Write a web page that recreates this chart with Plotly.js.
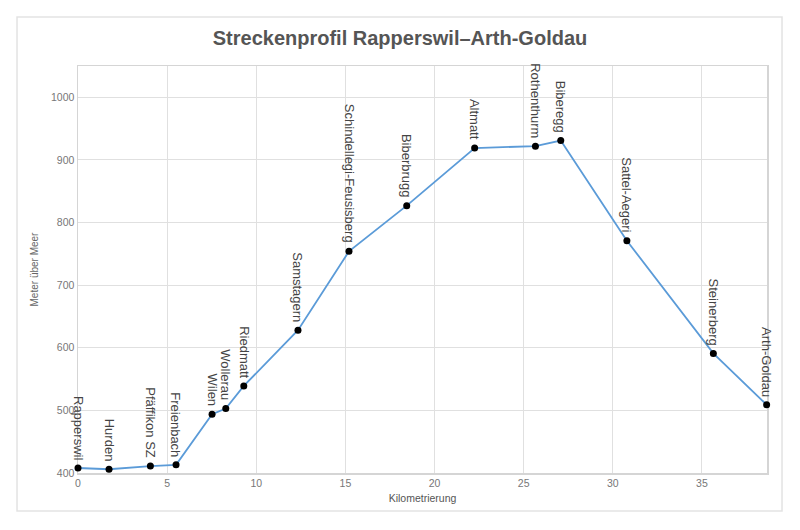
<!DOCTYPE html>
<html>
<head>
<meta charset="utf-8">
<script src="https://cdn.plot.ly/plotly-3.0.1.min.js"></script>
<style>html,body{margin:0;padding:0;background:#fff;}#chart{width:800px;height:530px;}</style>
</head>
<body>
<div id="chart"></div>
<script>
const stations = ["Rapperswil","Hurden","Pfäffikon SZ","Freienbach","Wilen","Wollerau","Riedmatt","Samstagern","Schindellegi-Feusisberg","Biberbrugg","Altmatt","Rothenthurm","Biberegg","Sattel-Aegeri","Steinerberg","Arth-Goldau"];
const km = [0, 1.74, 4.06, 5.5, 7.52, 8.29, 9.3, 12.34, 15.2, 18.44, 22.25, 25.66, 27.08, 30.79, 35.64, 38.63];
const elevation = [408, 406, 411, 413, 494, 503, 539, 628, 754, 827, 919, 922, 931, 771, 591, 509];
const xTicks = [0, 5, 10, 15, 20, 25, 30, 35];
const yTicks = [400, 500, 600, 700, 800, 900, 1000];

const trace = {
  x: km, y: elevation, type: 'scatter', mode: 'lines+markers',
  line: {color: '#5b9bd8', width: 1.8},
  marker: {color: '#000', size: 7},
  hoverinfo: 'skip', cliponaxis: false
};

const annotations = stations.map((s, i) => ({
  x: km[i], y: elevation[i], xref: 'x', yref: 'y',
  text: s, showarrow: false, textangle: 90,
  xanchor: 'center', yanchor: 'bottom', yshift: 6,
  font: {family: 'Liberation Sans, Arial, sans-serif', size: 13, color: '#444'}
}));

const layout = {
  width: 800, height: 530,
  margin: {l: 78, r: 33, t: 66, b: 57},
  paper_bgcolor: '#fff', plot_bgcolor: '#fff',
  showlegend: false,
  title: {text: 'Streckenprofil Rapperswil–Arth-Goldau', x: 0.5, xanchor: 'center', y: 0.928, yanchor: 'middle',
    font: {family: 'Liberation Sans, Arial, sans-serif', size: 20, color: '#555', weight: 'bold'}},
  xaxis: {range: [0, 38.65], tickvals: xTicks, ticktext: xTicks.map(String),
    showgrid: true, gridcolor: '#e0e0e0', gridwidth: 1,
    showline: true, linecolor: '#d5d5d5', linewidth: 1.5, mirror: true, layer: 'below traces',
    zeroline: false, ticks: '', ticklen: 0,
    tickfont: {family: 'Liberation Sans, Arial, sans-serif', size: 10.5, color: '#777'},
    title: {text: 'Kilometrierung', standoff: 6, font: {family: 'Liberation Sans, Arial, sans-serif', size: 10.5, color: '#555'}}},
  yaxis: {range: [400, 1050], tickvals: yTicks, ticktext: yTicks.map(String),
    showgrid: true, gridcolor: '#e0e0e0', gridwidth: 1,
    showline: true, linecolor: '#d5d5d5', linewidth: 1.5, mirror: true, layer: 'below traces',
    zeroline: false, ticks: '', ticklen: 0,
    tickfont: {family: 'Liberation Sans, Arial, sans-serif', size: 10.5, color: '#777'},
    title: {text: 'Meter über Meer', standoff: 10, font: {family: 'Liberation Sans, Arial, sans-serif', size: 10, color: '#666'}}},
  shapes: [{type: 'rect', xref: 'paper', yref: 'paper', x0: -0.0885, x1: 1.0218, y0: -0.0934, y1: 1.1204,
    line: {color: '#e3e3e3', width: 1.5}, fillcolor: 'rgba(0,0,0,0)', layer: 'below'}],
  annotations: annotations
};

Plotly.newPlot('chart', [trace], layout, {displayModeBar: false, staticPlot: true});
</script>
</body>
</html>
